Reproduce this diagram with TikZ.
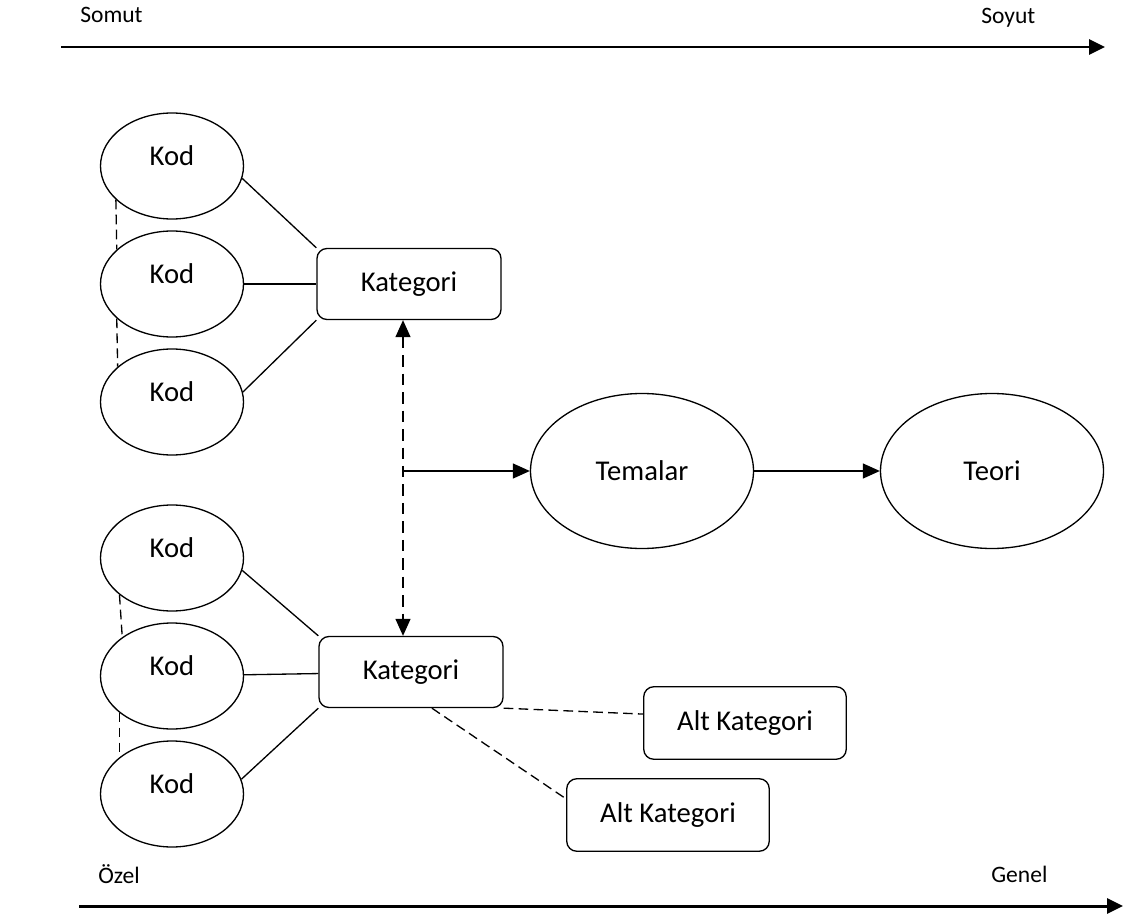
\documentclass[tikz,border=0pt]{standalone}
\usepackage{fontspec}
\setmainfont{Carlito}
\usepackage{tikz}
\usetikzlibrary{shapes.geometric, arrows.meta, positioning}
\tikzstyle{kod} = [ellipse, minimum width=2.86cm, minimum height=2.12cm, inner sep=0pt, text depth=0.4cm, draw=black, line width=0.75pt, font=\fontsize{16.3}{19.6}\selectfont]
\tikzstyle{tema} = [ellipse, minimum width=4.46cm, minimum height=3.1cm, inner sep=0pt, draw=black, line width=0.75pt, font=\fontsize{16.3}{19.6}\selectfont]
\tikzstyle{kategori} = [rectangle, rounded corners=0.2cm, minimum width=3.68cm, minimum height=1.42cm, text centered, draw=black, line width=0.75pt, font=\fontsize{16.3}{19.6}\selectfont]
\tikzstyle{altkategori} = [kategori, minimum width=4.05cm, minimum height=1.45cm]
\tikzstyle{etiket} = [inner sep=0pt, font=\fontsize{13.4}{16}\selectfont]
\tikzstyle{arrow} = [line width=0.75pt, ->, >={Triangle[length=0.34cm, width=0.3cm]}]
\tikzstyle{dashedline} = [line width=0.75pt, dash pattern=on 5.5pt off 3pt]
\tikzstyle{axis} = [line width=1.7pt, ->, >={Triangle[length=0.32cm, width=0.3cm]}]

\begin{document}
\begin{tikzpicture}[node distance=2.36cm]
    \useasboundingbox (0,0) rectangle (22.46,-18.28);
    % eksenler
    \coordinate (ust1) at (1.22,-0.94);
    \coordinate (ust2) at (22.1,-0.94);
    \coordinate (alt1x) at (1.58,-18.12);
    \coordinate (alt2x) at (22.46,-18.12);
    \node (somut) [etiket, anchor=base west] at (1.6,-0.46) {Somut};
    \node (soyut) [etiket, anchor=base west] at (19.62,-0.47) {Soyut};
    \node (ozel) [etiket, anchor=base west] at (1.96,-17.66) {Özel};
    \node (genel) [etiket, anchor=base west] at (19.82,-17.64) {Genel};

    % düğümler
    \node (kod1) [kod] at (3.44,-3.32) {Kod};
    \node (kod2) [kod, below of=kod1] {Kod};
    \node (kod3) [kod, below of=kod2] {Kod};
    \node (kat1) [kategori, right of=kod2, xshift=2.38cm] {Kategori};

    \node (kod4) [kod, below of=kod3, yshift=-0.76cm] {Kod};
    \node (kod5) [kod, below of=kod4] {Kod};
    \node (kod6) [kod, below of=kod5] {Kod};
    \node (kat2) [kategori, right of=kod5, xshift=2.42cm, yshift=0.08cm] {Kategori};
    \node (altkat1) [altkategori, right of=kat2, xshift=4.32cm, yshift=-1.02cm] {Alt Kategori};
    \node (altkat2) [altkategori, right of=kat2, xshift=2.78cm, yshift=-2.86cm] {Alt Kategori};

    \coordinate (kesisim) at (8.06,-9.42);
    \node (temalar) [tema, right of=kesisim, xshift=2.42cm] {Temalar};
    \node (teori) [tema, right of=temalar, xshift=4.64cm] {Teori};

    % bağlantılar
    \draw [axis] (ust1) -- (ust2);
    \draw [axis] (alt1x) -- (alt2x);

    \draw [line width=0.75pt] (kod1.-10) -- (kat1.north west);
    \draw [line width=0.75pt] (kod2) -- (kat1);
    \draw [line width=0.75pt] (kod3.8) -- (kat1.south west);
    \draw [dashedline] (kod1.211) -- (kod2.148);
    \draw [dashedline] (kod2.212) -- (kod3.147);

    \draw [line width=0.75pt] (kod4.-10) -- (kat2.north west);
    \draw [line width=0.75pt] (kod5) -- (kat2);
    \draw [line width=0.75pt] (kod6.12) -- (kat2.south west);
    \draw [dashedline] (kod4.215) -- (kod5.142);
    \draw [dashedline] (kod5.215) -- (kod6.145);

    \draw [arrow, <->, dashedline, dash pattern=on 6.5pt off 4pt] (kesisim |- kat1.south) -- (kesisim |- kat2.north);
    \draw [arrow] (kesisim) -- (temalar);
    \draw [arrow] (temalar) -- (teori);

    \draw [dashedline] (kat2.south east) -- (altkat1.175);
    \draw [dashedline] (kat2.-60) -- (altkat2.171);
\end{tikzpicture}
\end{document}
